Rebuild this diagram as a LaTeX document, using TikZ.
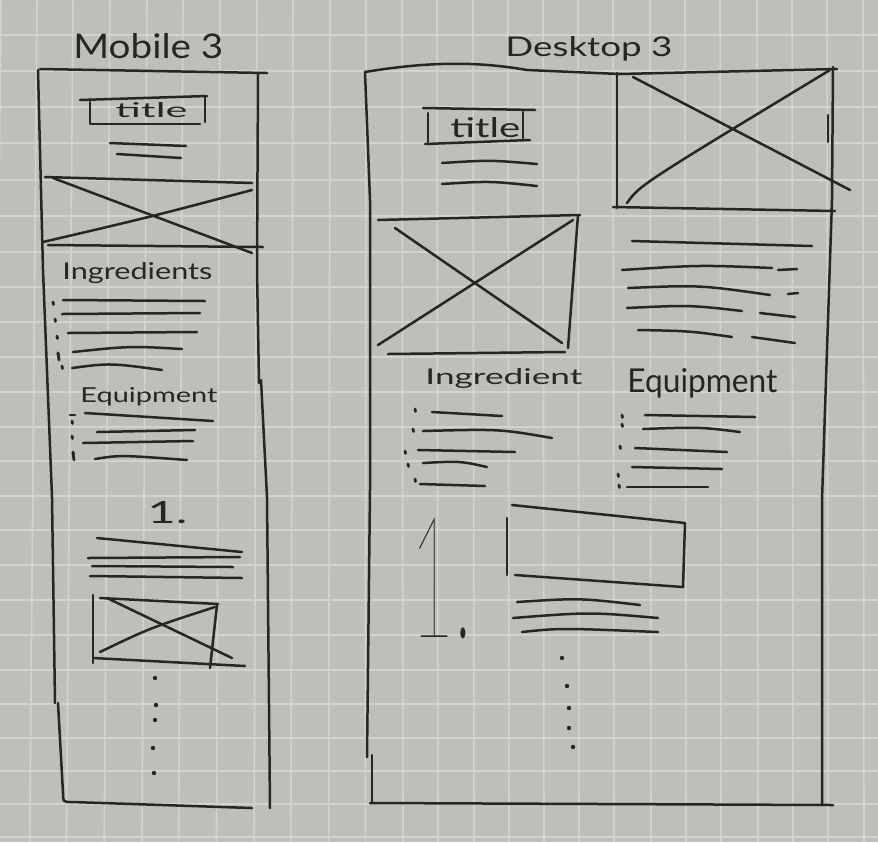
\documentclass[tikz,border=0pt]{standalone}
\usepackage{fontspec}
\setmainfont{Lato}
\IfFontExistsTF{Lato Thin}
  {\newfontfamily\thinfont{Lato Thin}}
  {\IfFontExistsTF{Lato Hairline}
    {\newfontfamily\thinfont{Lato Hairline}}
    {\newfontfamily\thinfont{Lato}}}
\usepackage{graphicx}
\definecolor{paper}{HTML}{BFBEB8}
\definecolor{gridc}{HTML}{D3D2CD}
\definecolor{inkc}{HTML}{262626}
% hand-lettered word: width and height in pt
\newcommand\hand[3]{\resizebox{#1pt}{#2pt}{#3}}
\tikzset{
  ink/.style={draw=inkc, line width=1.25pt, line cap=round, line join=round},
  tick/.style={draw=inkc, line width=1.4pt, line cap=round},
  dotmark/.style={fill=inkc, draw=none},
  word/.style={anchor=base west, inner sep=0pt, text=inkc},
  gridline/.style={draw=gridc, line width=0.8pt},
}
\begin{document}
\begin{tikzpicture}[x=0.5pt, y=-0.5pt]
% paper and grid
\fill[paper] (0,0) rectangle (878,842);
\path[use as bounding box] (0,0) rectangle (878,842);
\foreach \gx in {1,37,73,110,147,183,220,257,293,330,366}
  \draw[gridline] (\gx,0) -- ({\gx-8+0.02*\gx},842);
\foreach \gx in {402,437,473,508,543,578,613,650,685,720,757,792,827,863}
  \draw[gridline] (\gx,0) -- (\gx+1,842);
\foreach \gy in {35,71,107,143,180,216,252,287,322,357,392,427,461,496,530,565,600,635,670,704,738,771,804,837}
  \draw[gridline] (0,\gy) -- (878,\gy);

% ---------------- mobile layout ----------------
\node[word] (mtitle) at (73,58) {\hand{75}{12.5}{Mobile 3}};
% outer frame
\draw[ink] (40,69) -- (267,73);
\draw[ink] (38,70) -- (43,270) -- (52,497) -- (55,703);
\draw[ink] (58,703) -- (63,793) .. controls (63,802) .. (72,802) -- (252,808);
\draw[ink] (258,73) -- (257,270) -- (259,383);
\draw[ink] (261,380) -- (267,497) -- (270,808);
% title box
\draw[ink] (80,100) -- (207,96);
\draw[ink] (90,102) -- (90,124) -- (200,124);
\draw[ink] (205,96) -- (205,122);
\node[word] (mtitletext) at (115,117) {\hand{36}{7.5}{title}};
\draw[ink] (110,143) -- (186,146);
\draw[ink] (117,154) -- (181,158);
% hero image
\draw[ink] (45,177) -- (252,183);
\draw[ink] (48,245) -- (263,247);
\draw[ink] (53,178) -- (252,253);
\draw[ink] (43,242) .. controls (150,217) .. (252,190);
% ingredients
\node[word] (ming) at (62,279) {\hand{75}{8.5}{Ingredients}};
\draw[ink] (63,300) -- (205,301);
\draw[ink] (62,314) -- (200,313);
\draw[ink] (68,333) -- (197,332);
\draw[ink] (73,352) .. controls (130,346) .. (182,349);
\draw[ink] (72,368) .. controls (110,363) .. (162,370);
\foreach \bx/\by in {53/302,55/319,57/336,58/353,62/366}
  \draw[tick] (\bx,\by) -- ++(0.5,2.5);
\draw[tick] (58,353) -- (59,360);
% equipment
\node[word] (mequip) at (80,402) {\hand{68.5}{7.5}{Equipment}};
\draw[ink] (85,413) -- (213,421);
\draw[ink] (97,432) -- (195,430);
\draw[ink] (83,443) -- (193,441);
\draw[ink] (95,459) .. controls (120,455) .. (187,460);
\foreach \bx/\by in {72/421,72/436,73/452}
  \draw[tick] (\bx,\by) -- ++(0.5,2.5);
\draw[tick] (70,415) -- (75,415);
\draw[tick] (73,453) -- (74,460);
% step one
\node[word] (mstep) at (147,523) {\hand{20}{11}{1.}};
\draw[ink] (97,538) -- (242,552);
\draw[ink] (88,558) -- (240,557);
\draw[ink] (92,566) -- (233,567);
\draw[ink] (90,576) -- (242,578);
% step image
\draw[ink] (100,598) -- (218,604);
\draw[ink] (93,595) -- (93,663);
\draw[ink] (93,658) -- (245,666);
\draw[ink] (217,605) -- (210,668);
\draw[ink] (107,598) -- (232,658);
\draw[ink] (100,652) .. controls (150,628) .. (215,607);
\foreach \dx/\dy in {155/678,156/705,155/720,153/748,154/773}
  \fill[dotmark] (\dx,\dy) circle (2.2);

% ---------------- desktop layout ----------------
\node[word] (dtitle) at (505,56) {\hand{83.5}{10}{Desktop 3}};
% outer frame
\draw[ink] (365,72) .. controls (420,63) and (470,60) .. (527,70) -- (620,74) -- (837,69);
\draw[ink] (365,72) -- (370,200) -- (370,490) -- (367,757);
\draw[ink] (372,755) -- (372,803);
\draw[ink] (370,803) -- (833,805);
\draw[ink] (833,67) -- (832,200) -- (822,500) -- (822,805);
% hero image, top right
\draw[ink] (617,73) -- (617,208);
\draw[ink] (613,207) -- (835,211);
\draw[ink] (828,115) -- (828,142);
\draw[ink] (633,77) -- (850,190);
\draw[ink] (627,203) .. controls (640,185) .. (830,70);
% title box
\draw[ink] (423,108) -- (535,110);
\draw[ink] (428,113) -- (428,142);
\draw[ink] (425,144) -- (530,140);
\draw[ink] (523,112) -- (523,138);
\node[word] (dtitletext) at (450,137) {\hand{35}{10}{title}};
\draw[ink] (442,163) .. controls (490,160) .. (537,164);
\draw[ink] (442,184) .. controls (490,181) .. (537,186);
% image, left
\draw[ink] (378,220) -- (580,215);
\draw[ink] (578,215) -- (568,348);
\draw[ink] (388,354) -- (565,352);
\draw[ink] (395,228) -- (562,343);
\draw[ink] (378,345) -- (573,220);
% description lines
\draw[ink] (632,241) -- (812,246);
\draw[ink] (622,270) .. controls (700,265) .. (772,268);
\draw[ink] (778,270) -- (797,269);
\draw[ink] (628,288) .. controls (700,285) .. (770,295);
\draw[ink] (788,294) -- (798,293);
\draw[ink] (627,308) .. controls (690,305) .. (742,311);
\draw[ink] (760,313) -- (795,317);
\draw[ink] (638,330) .. controls (690,331) .. (732,337);
\draw[ink] (752,337) -- (795,343);
% ingredient list
\node[word] (ding) at (425,384) {\hand{78.5}{8}{Ingredient}};
\draw[ink] (432,412) -- (502,416);
\draw[ink] (423,431) .. controls (500,429) .. (552,438);
\draw[ink] (418,450) -- (515,452);
\draw[ink] (423,463) .. controls (460,461) .. (487,467);
\draw[ink] (420,484) -- (485,486);
\foreach \bx/\by in {415/409,413/429,405/451,408/464,415/479}
  \draw[tick] (\bx,\by) -- ++(0.5,2.5);
% equipment list
\node[word] (dequip) at (627,392) {\hand{75}{12}{Equipment}};
\draw[ink] (645,415) -- (755,417);
\draw[ink] (643,429) .. controls (700,427) .. (740,432);
\draw[ink] (635,448) -- (727,452);
\draw[ink] (632,467) -- (722,469);
\draw[ink] (627,487) -- (708,487);
\foreach \bx/\by in {622/415,622/424,620/446,618/474,619/485}
  \draw[tick] (\bx,\by) -- ++(0.5,2.5);
% step one, large numeral
\node[word] (dstep) at (410,637) {\hand{31}{59.5}{\thinfont 1.}};
\draw[ink] (512,505) -- (685,523);
\draw[ink] (507,518) -- (507,575);
\draw[ink] (685,523) -- (683,587);
\draw[ink] (515,575) -- (683,587);
\draw[ink] (517,602) .. controls (580,598) .. (640,605);
\draw[ink] (513,618) .. controls (590,612) .. (658,618);
\draw[ink] (522,632) .. controls (560,628) .. (658,632);
\foreach \dx/\dy in {562/658,567/686,569/708,569/728,573/747}
  \fill[dotmark] (\dx,\dy) circle (2.2);
\end{tikzpicture}
\end{document}
